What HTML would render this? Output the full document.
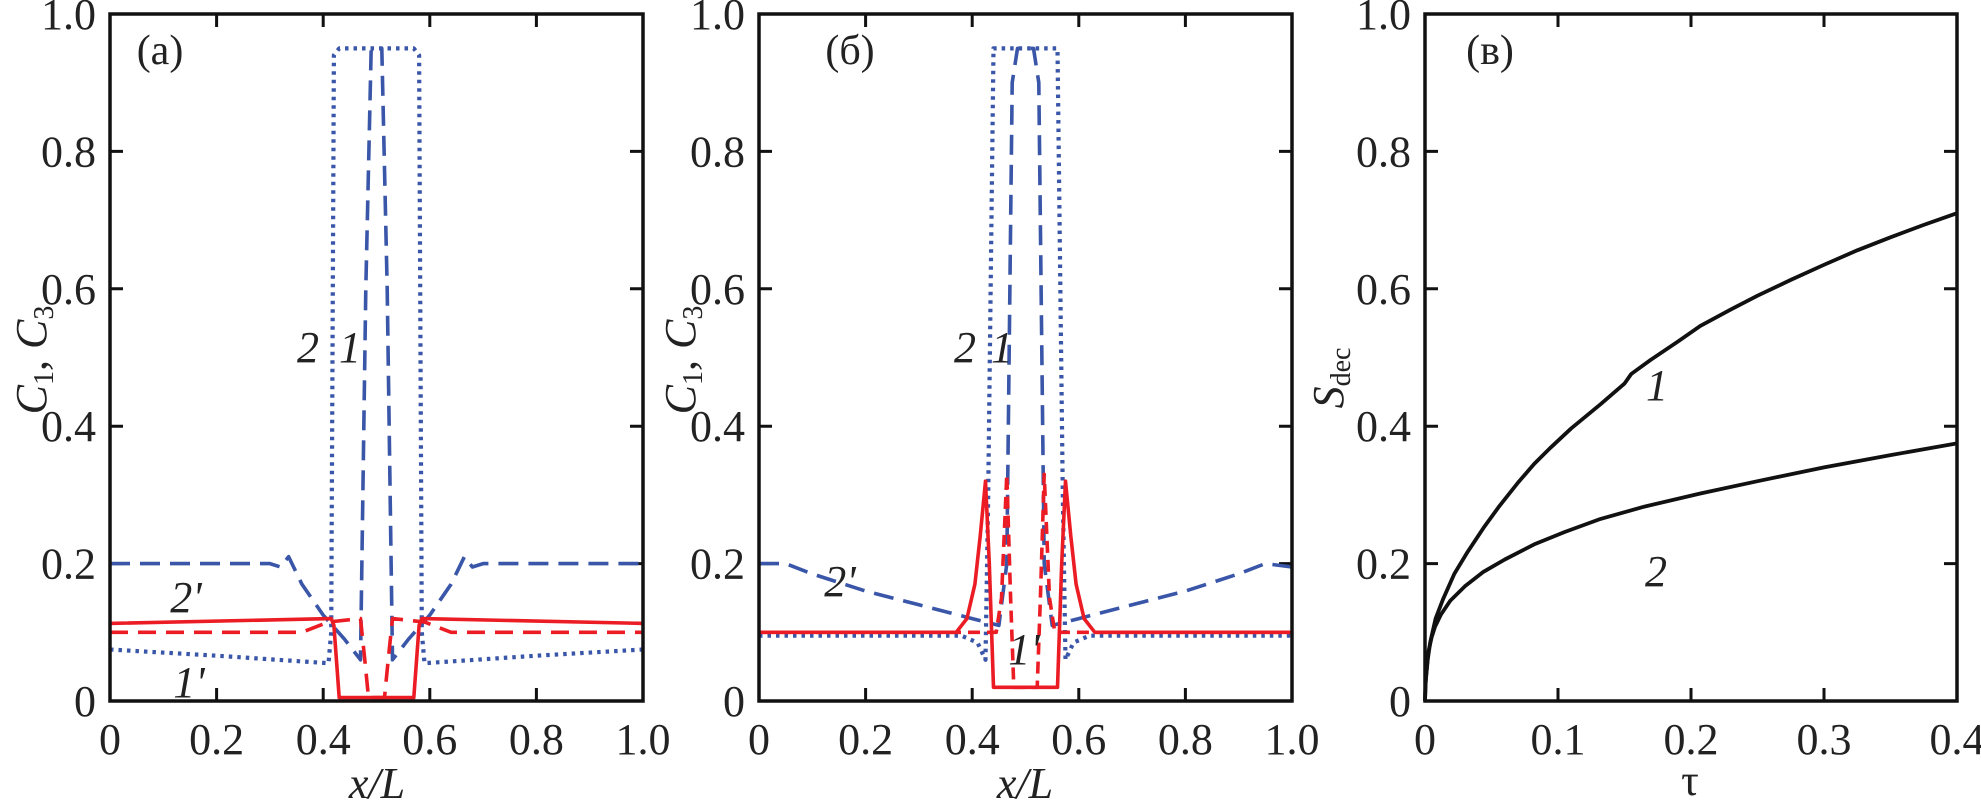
<!DOCTYPE html>
<html><head><meta charset="utf-8"><style>
html,body{margin:0;padding:0;background:#fff;}
svg{display:block;font-family:"Liberation Serif","Times New Roman",serif;}
text{font-family:"Liberation Serif","Times New Roman",serif;}
</style></head><body>
<svg id="chart" width="1981" height="807" viewBox="0 0 1981 807" xmlns="http://www.w3.org/2000/svg"></svg>
<script>
// ---- Data (panel a) ----
const aBlueDotX=[0,0.2,0.41,0.415,0.42,0.43,0.57,0.58,0.585,0.59,0.8,1.0];
const aBlueDotY=[0.075,0.066,0.055,0.1,0.94,0.95,0.95,0.94,0.1,0.055,0.066,0.075];
const aBlueDashX=[0,0.3,0.32,0.335,0.36,0.4,0.44,0.47,0.48,0.49,0.51,0.52,0.53,0.56,0.6,0.64,0.665,0.68,0.7,1.0];
const aBlueDashY=[0.2,0.2,0.195,0.21,0.17,0.125,0.09,0.06,0.6,0.95,0.95,0.6,0.06,0.09,0.125,0.17,0.21,0.195,0.2,0.2];
const aRedSolidX=[0,0.415,0.42,0.43,0.57,0.58,0.585,1.0];
const aRedSolidY=[0.113,0.12,0.11,0.005,0.005,0.11,0.12,0.113];
const aRedDashX=[0,0.33,0.36,0.41,0.47,0.478,0.485,0.515,0.522,0.53,0.59,0.64,0.67,1.0];
const aRedDashY=[0.1,0.1,0.1,0.115,0.12,0.06,0.005,0.005,0.06,0.12,0.115,0.1,0.1,0.1];
// ---- Data (panel b) ----
const bBlueDotX=[0,0.38,0.41,0.425,0.43,0.44,0.56,0.57,0.575,0.59,0.62,1.0];
const bBlueDotY=[0.095,0.095,0.085,0.06,0.3,0.95,0.95,0.3,0.06,0.085,0.095,0.095];
const bBlueDashX=[0,0.05,0.1,0.2,0.3,0.4,0.45,0.465,0.475,0.485,0.515,0.525,0.535,0.55,0.6,0.7,0.8,0.9,0.95,1.0];
const bBlueDashY=[0.2,0.2,0.185,0.16,0.14,0.12,0.11,0.2,0.9,0.95,0.95,0.9,0.2,0.11,0.12,0.14,0.16,0.185,0.2,0.195];
const bRedSolidX=[0,0.37,0.39,0.405,0.415,0.425,0.432,0.44,0.56,0.568,0.575,0.585,0.595,0.61,0.63,1.0];
const bRedSolidY=[0.1,0.1,0.12,0.17,0.24,0.32,0.2,0.02,0.02,0.2,0.32,0.24,0.17,0.12,0.1,0.1];
const bRedDashX=[0,0.445,0.455,0.465,0.472,0.478,0.522,0.528,0.535,0.545,0.555,1.0];
const bRedDashY=[0.1,0.1,0.15,0.33,0.15,0.02,0.02,0.15,0.33,0.15,0.1,0.1];
// ---- Data (panel c) ----
const cTau1=[0,0.0005,0.002,0.004,0.008,0.0135,0.022,0.032,0.044,0.056,0.07,0.082,0.094,0.11,0.132,0.15,0.155,0.17,0.19,0.207,0.23,0.25,0.275,0.3,0.325,0.35,0.375,0.4];
const cS1=[0,0.03,0.06,0.086,0.12,0.148,0.185,0.217,0.252,0.284,0.318,0.345,0.368,0.397,0.432,0.462,0.476,0.497,0.523,0.546,0.57,0.59,0.613,0.635,0.656,0.675,0.693,0.71];
const cTau2=[0,0.0003,0.0008,0.0025,0.005,0.0075,0.012,0.019,0.03,0.044,0.06,0.082,0.105,0.132,0.165,0.207,0.25,0.3,0.35,0.4];
const cS2=[0,0.02,0.035,0.071,0.093,0.108,0.126,0.146,0.167,0.188,0.206,0.228,0.246,0.265,0.283,0.302,0.32,0.34,0.358,0.375];
const xTicksAB=["0","0.2","0.4","0.6","0.8","1.0"];
const xTicksC=["0","0.1","0.2","0.3","0.4"];
const yTicks=["0","0.2","0.4","0.6","0.8","1.0"];

const svg=document.getElementById('chart');
const NS="http://www.w3.org/2000/svg";
const BLUE="#3a56a8",RED="#ec1c24";
const FONT='"Liberation Serif","Times New Roman",serif';
const Y0=701,Y1=14;
function mk(tag,attrs,parent){const e=document.createElementNS(NS,tag);for(const k in attrs)e.setAttribute(k,attrs[k]);(parent||svg).appendChild(e);return e;}
function panel(name,x0,x1,xmax,xt){
  const g=mk('g',{});
  
  
  const sx=v=>x0+(v/xmax)*(x1-x0), sy=v=>Y0-v*(Y0-Y1);
  xt.forEach((t,i)=>{const v=xmax*i/(xt.length-1),x=sx(v);
    if(i>0&&i<xt.length-1){const tk=mk('path',{d:`M${x},${Y0}V${Y0-13}M${x},${Y1}V${Y1+13}`,stroke:'#111','stroke-width':3},g);
      }
    const tl=mk('text',{x:x,y:754,'text-anchor':'middle','font-size':44,fill:'#222','font-family':FONT},g);tl.textContent=t;
    });
  yTicks.forEach((t,i)=>{const v=i/5,y=sy(v);
    if(i>0&&i<5){const tk=mk('path',{d:`M${x0},${y}H${x0+13}M${x1},${y}H${x1-13}`,stroke:'#111','stroke-width':3},g);
      }
    const tl=mk('text',{x:x0-14,y:y+15,'text-anchor':'end','font-size':44,fill:'#222','font-family':FONT},g);tl.textContent=t;
    });
  return {g,sx,sy};
}
function line(p,xs,ys,color,dash,name,w){
  const d=xs.map((x,i)=>(i?'L':'M')+p.sx(x).toFixed(1)+','+p.sy(ys[i]).toFixed(1)).join('');
  const a={d:d,fill:'none',stroke:color,'stroke-width':w||3.6,'stroke-linejoin':'round'};
  if(dash){a['stroke-dasharray']=dash;}
  if(dash==='3.5 5'){a['stroke-width']=4.2;}
  const e=mk('path',a,p.g);
  
  
}
function frame(p,x0,x1){const f=mk('rect',{x:x0,y:Y1,width:x1-x0,height:Y0-Y1,fill:'none',stroke:'#111','stroke-width':3.5},p.g);
  }
function txt(p,x,y,s,name,size,italic,anchor){const t=mk('text',{x:x,y:y,'font-size':size||40,'font-style':italic?'italic':'normal','text-anchor':anchor||'middle',fill:'#222','font-family':FONT},p.g);
  t.innerHTML=s;return t;}
const YT='C<tspan font-style="normal" font-size="28" dy="7">1</tspan><tspan font-style="normal" dy="-7">, </tspan>C<tspan font-style="normal" font-size="28" dy="7">3</tspan>';

// Panel a
const pa=panel('panel-a',110,643,1,xTicksAB);
line(pa,aBlueDotX,aBlueDotY,BLUE,'3.5 5','curve-2-c1');
line(pa,aBlueDashX,aBlueDashY,BLUE,'20 10','curve-1-c1');
line(pa,aRedSolidX,aRedSolidY,RED,null,'curve-2prime-c3');
line(pa,aRedDashX,aRedDashY,RED,'18 10','curve-1prime-c3');
frame(pa,110,643);
txt(pa,160,64,'(a)','panel-label-a',42,false);
txt(pa,308,362,'2','curve-label-2',44,true);
txt(pa,350,362,'1','curve-label-1',44,true);
txt(pa,186,612,"2'",'curve-label-2prime',44,true);
txt(pa,189,697,"1'",'curve-label-1prime',44,true);
txt(pa,377,798,'x/L','x-axis-title',44,true);
txt(pa,0,0,YT,'y-axis-title',44,true).setAttribute('transform','translate(46,360) rotate(-90)');

// Panel b
const pb=panel('panel-b',759,1292,1,xTicksAB);
line(pb,bBlueDotX,bBlueDotY,BLUE,'3.5 5','curve-2-c1');
line(pb,bBlueDashX,bBlueDashY,BLUE,'20 10','curve-1-c1');
line(pb,bRedSolidX,bRedSolidY,RED,null,'curve-2prime-c3');
line(pb,bRedDashX,bRedDashY,RED,'12 7','curve-1prime-c3');
frame(pb,759,1292);
txt(pb,850,64,'(б)','panel-label-b',42,false);
txt(pb,965,362,'2','curve-label-2',44,true);
txt(pb,1002,362,'1','curve-label-1',44,true);
txt(pb,840,596,"2'",'curve-label-2prime',44,true);
txt(pb,1024,664,"1'",'curve-label-1prime',44,true);
txt(pb,1025,798,'x/L','x-axis-title',44,true);
txt(pb,0,0,YT,'y-axis-title',44,true).setAttribute('transform','translate(695,360) rotate(-90)');

// Panel c
const pc=panel('panel-c',1425,1957,0.4,xTicksC);
line(pc,cTau1,cS1,'#111',null,'curve-1-sdec',3.8);
line(pc,cTau2,cS2,'#111',null,'curve-2-sdec',3.8);
frame(pc,1425,1957);
txt(pc,1490,64,'(в)','panel-label-c',42,false);
txt(pc,1657,400,'1','curve-label-1',44,true);
txt(pc,1656,586,'2','curve-label-2',44,true);
txt(pc,1690,795,'τ','x-axis-title',44,false);
txt(pc,0,0,'S<tspan font-style="normal" font-size="28" dy="7">dec</tspan>','y-axis-title',44,true).setAttribute('transform','translate(1343,378) rotate(-90)');
</script>
</body></html>
